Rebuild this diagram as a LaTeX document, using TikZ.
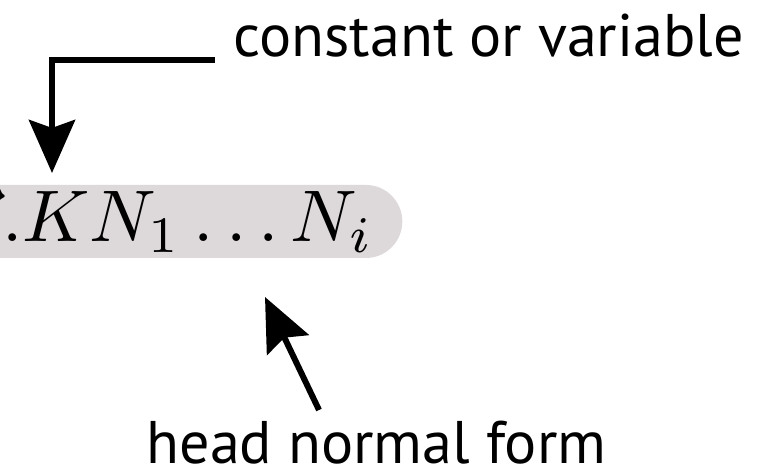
\documentclass[tikz,border=0pt]{standalone}
\usepackage{fontspec}
\setmainfont{PT Sans}
\usetikzlibrary{arrows.meta,positioning}
\definecolor{termgray}{RGB}{221,216,217}
\newcommand{\bigmath}[1]{\scalebox{2.08}{$#1$}}
\tikzset{
  labeltext/.style={font=\fontsize{17.1}{20}\selectfont, inner sep=0pt, anchor=base west},
  termbox/.style={fill=termgray, rounded corners=0.365cm, inner xsep=0.28cm, inner ysep=0pt,
    text height=0.57cm, text depth=0.16cm, anchor=base east},
  pointer/.style={line width=1.7pt, -{Stealth[length=0.53cm,width=0.46cm,inset=0.08cm]}},
}
\begin{document}
\begin{tikzpicture}[x=0.01cm, y=-0.01cm]
    \useasboundingbox (0,0) rectangle (776,468);

    % the term in head normal form
    \node[termbox] (term) at (403,242) {\bigmath{\vec{x}.K N_1 \ldots N_i}};

    % labels
    \node[labeltext] (cvlabel) at (233,57) {constant or variable};
    \node[labeltext] (hnflabel) at (146,464) {head normal form};

    % pointer to the head
    \coordinate (cvstart) at ([xshift=-0.18cm, yshift=-0.03cm]cvlabel.base west);
    \coordinate (headtip) at (52,173);
    \draw[pointer] (cvstart) -| (headtip);

    % pointer to the whole term
    \coordinate (hnftail) at (319,410);
    \coordinate (hnftip) at (265,297);
    \draw[pointer] (hnftail) -- (hnftip);
\end{tikzpicture}
\end{document}
